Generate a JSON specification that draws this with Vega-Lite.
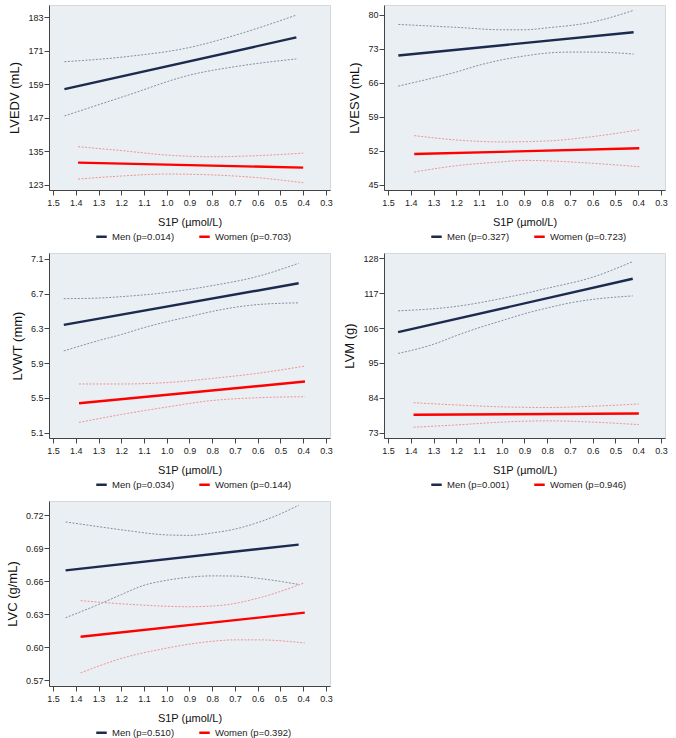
{
  "$schema": "https://vega.github.io/schema/vega-lite/v6.json",
  "background": "white",
  "padding": {"left": 5, "top": 4, "right": 4, "bottom": 4},
  "config": {
    "font": "Liberation Sans",
    "view": {"fill": "#e9eff2", "stroke": "#d4d8da", "strokeWidth": 1},
    "axis": {"grid": false, "domainColor": "#444", "tickColor": "#444", "tickSize": 5, "labelFontSize": 9, "labelColor": "#222", "titleFontWeight": "normal", "titleColor": "#111", "labelFont": "Liberation Sans", "titleFont": "Liberation Sans"},
    "axisX": {"titleFontSize": 11, "titlePadding": 9, "labelPadding": 3},
    "axisY": {"titleFontSize": 13, "titlePadding": 6, "labelPadding": 1}
  },
  "datasets": {
    "lvedv": [
      {"s": "Men", "k": "fit", "x": 1.45, "y": 157.3},
      {"s": "Men", "k": "fit", "x": 0.43, "y": 175.8},
      {"s": "Men", "k": "hi", "x": 1.45, "y": 167.1},
      {"s": "Men", "k": "hi", "x": 1.18, "y": 168.9},
      {"s": "Men", "k": "hi", "x": 0.9, "y": 172.2},
      {"s": "Men", "k": "hi", "x": 0.67, "y": 177.3},
      {"s": "Men", "k": "hi", "x": 0.43, "y": 183.8},
      {"s": "Men", "k": "lo", "x": 1.45, "y": 147.7},
      {"s": "Men", "k": "lo", "x": 1.18, "y": 154.9},
      {"s": "Men", "k": "lo", "x": 0.9, "y": 162.3},
      {"s": "Men", "k": "lo", "x": 0.67, "y": 165.7},
      {"s": "Men", "k": "lo", "x": 0.43, "y": 168.1},
      {"s": "Women", "k": "fit", "x": 1.39, "y": 131.0},
      {"s": "Women", "k": "fit", "x": 0.4, "y": 129.2},
      {"s": "Women", "k": "hi", "x": 1.39, "y": 136.7},
      {"s": "Women", "k": "hi", "x": 1.2, "y": 135.3},
      {"s": "Women", "k": "hi", "x": 1.0, "y": 133.7},
      {"s": "Women", "k": "hi", "x": 0.8, "y": 133.1},
      {"s": "Women", "k": "hi", "x": 0.6, "y": 133.5},
      {"s": "Women", "k": "hi", "x": 0.4, "y": 134.4},
      {"s": "Women", "k": "lo", "x": 1.39, "y": 125.1},
      {"s": "Women", "k": "lo", "x": 1.2, "y": 126.2},
      {"s": "Women", "k": "lo", "x": 1.0, "y": 126.9},
      {"s": "Women", "k": "lo", "x": 0.8, "y": 126.6},
      {"s": "Women", "k": "lo", "x": 0.6, "y": 125.6},
      {"s": "Women", "k": "lo", "x": 0.4, "y": 123.8}
    ],
    "lvesv": [
      {"s": "Men", "k": "fit", "x": 1.455, "y": 71.6},
      {"s": "Men", "k": "fit", "x": 0.42, "y": 76.4},
      {"s": "Men", "k": "hi", "x": 1.455, "y": 78.0},
      {"s": "Men", "k": "hi", "x": 1.2, "y": 77.4},
      {"s": "Men", "k": "hi", "x": 1.0, "y": 76.9},
      {"s": "Men", "k": "hi", "x": 0.9, "y": 76.9},
      {"s": "Men", "k": "hi", "x": 0.8, "y": 77.3},
      {"s": "Men", "k": "hi", "x": 0.6, "y": 78.5},
      {"s": "Men", "k": "hi", "x": 0.42, "y": 80.9},
      {"s": "Men", "k": "lo", "x": 1.455, "y": 65.3},
      {"s": "Men", "k": "lo", "x": 1.3, "y": 67.0},
      {"s": "Men", "k": "lo", "x": 1.2, "y": 68.2},
      {"s": "Men", "k": "lo", "x": 1.1, "y": 69.6},
      {"s": "Men", "k": "lo", "x": 1.0, "y": 70.7},
      {"s": "Men", "k": "lo", "x": 0.9, "y": 71.5},
      {"s": "Men", "k": "lo", "x": 0.8, "y": 72.1},
      {"s": "Men", "k": "lo", "x": 0.7, "y": 72.3},
      {"s": "Men", "k": "lo", "x": 0.6, "y": 72.3},
      {"s": "Men", "k": "lo", "x": 0.42, "y": 71.9},
      {"s": "Women", "k": "fit", "x": 1.385, "y": 51.3},
      {"s": "Women", "k": "fit", "x": 0.395, "y": 52.5},
      {"s": "Women", "k": "hi", "x": 1.385, "y": 55.1},
      {"s": "Women", "k": "hi", "x": 1.2, "y": 54.2},
      {"s": "Women", "k": "hi", "x": 1.0, "y": 53.8},
      {"s": "Women", "k": "hi", "x": 0.8, "y": 54.0},
      {"s": "Women", "k": "hi", "x": 0.6, "y": 54.9},
      {"s": "Women", "k": "hi", "x": 0.395, "y": 56.3},
      {"s": "Women", "k": "lo", "x": 1.385, "y": 47.6},
      {"s": "Women", "k": "lo", "x": 1.2, "y": 48.9},
      {"s": "Women", "k": "lo", "x": 1.0, "y": 49.7},
      {"s": "Women", "k": "lo", "x": 0.9, "y": 50.0},
      {"s": "Women", "k": "lo", "x": 0.8, "y": 49.9},
      {"s": "Women", "k": "lo", "x": 0.6, "y": 49.4},
      {"s": "Women", "k": "lo", "x": 0.395, "y": 48.7}
    ],
    "lvwt": [
      {"s": "Men", "k": "fit", "x": 1.453, "y": 6.341},
      {"s": "Men", "k": "fit", "x": 0.42, "y": 6.819},
      {"s": "Men", "k": "hi", "x": 1.453, "y": 6.642},
      {"s": "Men", "k": "hi", "x": 1.3, "y": 6.649},
      {"s": "Men", "k": "hi", "x": 1.2, "y": 6.665},
      {"s": "Men", "k": "hi", "x": 1.0, "y": 6.713},
      {"s": "Men", "k": "hi", "x": 0.8, "y": 6.792},
      {"s": "Men", "k": "hi", "x": 0.6, "y": 6.898},
      {"s": "Men", "k": "hi", "x": 0.42, "y": 7.049},
      {"s": "Men", "k": "lo", "x": 1.453, "y": 6.041},
      {"s": "Men", "k": "lo", "x": 1.3, "y": 6.16},
      {"s": "Men", "k": "lo", "x": 1.2, "y": 6.23},
      {"s": "Men", "k": "lo", "x": 1.1, "y": 6.309},
      {"s": "Men", "k": "lo", "x": 1.0, "y": 6.377},
      {"s": "Men", "k": "lo", "x": 0.9, "y": 6.436},
      {"s": "Men", "k": "lo", "x": 0.8, "y": 6.495},
      {"s": "Men", "k": "lo", "x": 0.7, "y": 6.543},
      {"s": "Men", "k": "lo", "x": 0.6, "y": 6.574},
      {"s": "Men", "k": "lo", "x": 0.42, "y": 6.594},
      {"s": "Women", "k": "fit", "x": 1.386, "y": 5.44},
      {"s": "Women", "k": "fit", "x": 0.392, "y": 5.689},
      {"s": "Women", "k": "hi", "x": 1.386, "y": 5.661},
      {"s": "Women", "k": "hi", "x": 1.2, "y": 5.661},
      {"s": "Women", "k": "hi", "x": 1.0, "y": 5.677},
      {"s": "Women", "k": "hi", "x": 0.8, "y": 5.725},
      {"s": "Women", "k": "hi", "x": 0.6, "y": 5.784},
      {"s": "Women", "k": "hi", "x": 0.392, "y": 5.867},
      {"s": "Women", "k": "lo", "x": 1.386, "y": 5.219},
      {"s": "Women", "k": "lo", "x": 1.2, "y": 5.31},
      {"s": "Women", "k": "lo", "x": 1.0, "y": 5.396},
      {"s": "Women", "k": "lo", "x": 0.8, "y": 5.471},
      {"s": "Women", "k": "lo", "x": 0.6, "y": 5.503},
      {"s": "Women", "k": "lo", "x": 0.392, "y": 5.515}
    ],
    "lvm": [
      {"s": "Men", "k": "fit", "x": 1.456, "y": 104.7},
      {"s": "Men", "k": "fit", "x": 0.424, "y": 121.5},
      {"s": "Men", "k": "hi", "x": 1.456, "y": 111.4},
      {"s": "Men", "k": "hi", "x": 1.2, "y": 112.8},
      {"s": "Men", "k": "hi", "x": 1.0, "y": 115.3},
      {"s": "Men", "k": "hi", "x": 0.8, "y": 118.5},
      {"s": "Men", "k": "hi", "x": 0.6, "y": 122.0},
      {"s": "Men", "k": "hi", "x": 0.424, "y": 126.9},
      {"s": "Men", "k": "lo", "x": 1.456, "y": 98.0},
      {"s": "Men", "k": "lo", "x": 1.3, "y": 100.9},
      {"s": "Men", "k": "lo", "x": 1.2, "y": 103.6},
      {"s": "Men", "k": "lo", "x": 1.1, "y": 106.1},
      {"s": "Men", "k": "lo", "x": 1.0, "y": 108.3},
      {"s": "Men", "k": "lo", "x": 0.9, "y": 110.5},
      {"s": "Men", "k": "lo", "x": 0.8, "y": 112.3},
      {"s": "Men", "k": "lo", "x": 0.7, "y": 113.9},
      {"s": "Men", "k": "lo", "x": 0.6, "y": 115.0},
      {"s": "Men", "k": "lo", "x": 0.424, "y": 116.1},
      {"s": "Women", "k": "fit", "x": 1.388, "y": 78.7},
      {"s": "Women", "k": "fit", "x": 0.397, "y": 79.1},
      {"s": "Women", "k": "hi", "x": 1.388, "y": 82.5},
      {"s": "Women", "k": "hi", "x": 1.2, "y": 81.8},
      {"s": "Women", "k": "hi", "x": 1.0, "y": 81.2},
      {"s": "Women", "k": "hi", "x": 0.8, "y": 81.0},
      {"s": "Women", "k": "hi", "x": 0.6, "y": 81.4},
      {"s": "Women", "k": "hi", "x": 0.397, "y": 82.1},
      {"s": "Women", "k": "lo", "x": 1.388, "y": 74.8},
      {"s": "Women", "k": "lo", "x": 1.2, "y": 75.5},
      {"s": "Women", "k": "lo", "x": 1.0, "y": 76.4},
      {"s": "Women", "k": "lo", "x": 0.8, "y": 76.8},
      {"s": "Women", "k": "lo", "x": 0.6, "y": 76.4},
      {"s": "Women", "k": "lo", "x": 0.397, "y": 75.6}
    ],
    "lvc": [
      {"s": "Men", "k": "fit", "x": 1.445, "y": 0.670},
      {"s": "Men", "k": "fit", "x": 0.42, "y": 0.6934},
      {"s": "Men", "k": "hi", "x": 1.445, "y": 0.714},
      {"s": "Men", "k": "hi", "x": 1.3, "y": 0.7097},
      {"s": "Men", "k": "hi", "x": 1.18, "y": 0.7063},
      {"s": "Men", "k": "hi", "x": 1.0, "y": 0.7022},
      {"s": "Men", "k": "hi", "x": 0.9, "y": 0.7018},
      {"s": "Men", "k": "hi", "x": 0.8, "y": 0.704},
      {"s": "Men", "k": "hi", "x": 0.7, "y": 0.7075},
      {"s": "Men", "k": "hi", "x": 0.6, "y": 0.7134},
      {"s": "Men", "k": "hi", "x": 0.5, "y": 0.7213},
      {"s": "Men", "k": "hi", "x": 0.42, "y": 0.7291},
      {"s": "Men", "k": "lo", "x": 1.445, "y": 0.627},
      {"s": "Men", "k": "lo", "x": 1.3, "y": 0.639},
      {"s": "Men", "k": "lo", "x": 1.2, "y": 0.648},
      {"s": "Men", "k": "lo", "x": 1.1, "y": 0.6565},
      {"s": "Men", "k": "lo", "x": 1.0, "y": 0.661},
      {"s": "Men", "k": "lo", "x": 0.9, "y": 0.6638},
      {"s": "Men", "k": "lo", "x": 0.8, "y": 0.665},
      {"s": "Men", "k": "lo", "x": 0.7, "y": 0.6648},
      {"s": "Men", "k": "lo", "x": 0.6, "y": 0.6628},
      {"s": "Men", "k": "lo", "x": 0.5, "y": 0.66},
      {"s": "Men", "k": "lo", "x": 0.42, "y": 0.6572},
      {"s": "Women", "k": "fit", "x": 1.379, "y": 0.6097},
      {"s": "Women", "k": "fit", "x": 0.393, "y": 0.6316},
      {"s": "Women", "k": "hi", "x": 1.379, "y": 0.6425},
      {"s": "Women", "k": "hi", "x": 1.15, "y": 0.639},
      {"s": "Women", "k": "hi", "x": 0.9, "y": 0.637},
      {"s": "Women", "k": "hi", "x": 0.75, "y": 0.6385},
      {"s": "Women", "k": "hi", "x": 0.6, "y": 0.6447},
      {"s": "Women", "k": "hi", "x": 0.393, "y": 0.6588},
      {"s": "Women", "k": "lo", "x": 1.379, "y": 0.5769},
      {"s": "Women", "k": "lo", "x": 1.2, "y": 0.59},
      {"s": "Women", "k": "lo", "x": 1.0, "y": 0.5994},
      {"s": "Women", "k": "lo", "x": 0.8, "y": 0.6056},
      {"s": "Women", "k": "lo", "x": 0.7, "y": 0.6069},
      {"s": "Women", "k": "lo", "x": 0.6, "y": 0.6069},
      {"s": "Women", "k": "lo", "x": 0.393, "y": 0.6041}
    ]
  },
  "columns": 2,
  "spacing": {"row": 9, "column": 10},
  "resolve": {"scale": {"color": "independent", "x": "independent", "y": "independent"}, "legend": {"color": "independent"}},
  "concat": [
    {
      "width": 281, "height": 185,
      "data": {"name": "lvedv"},
      "encoding": {
        "x": {"field": "x", "type": "quantitative", "scale": {"domain": [0.282, 1.518], "reverse": true, "nice": false, "zero": false}, "axis": {"values": [1.5, 1.4, 1.3, 1.2, 1.1, 1.0, 0.9, 0.8, 0.7, 0.6, 0.5, 0.4, 0.3], "format": ".1f", "title": "S1P (µmol/L)"}},
        "y": {"field": "y", "type": "quantitative", "scale": {"domain": [121.2, 187.4], "nice": false, "zero": false}, "axis": {"values": [123, 135, 147, 159, 171, 183], "title": "LVEDV (mL)"}}
      },
      "layer": [
        {"transform": [{"filter": "datum.k != 'fit'"}], "mark": {"type": "line", "strokeDash": [2, 1.5], "strokeWidth": 0.9, "interpolate": "monotone"}, "encoding": {"detail": [{"field": "s"}, {"field": "k"}], "stroke": {"condition": {"test": "datum.s == 'Men'", "value": "#7b8399"}, "value": "#f08888"}}},
        {"transform": [{"filter": "datum.k == 'fit'"}], "mark": {"type": "line", "strokeWidth": 2.4}, "encoding": {"color": {"field": "s", "type": "nominal", "scale": {"domain": ["Men", "Women"], "range": ["#1b2a4e", "#ff0000"]}, "legend": {"title": null, "orient": "none", "legendX": 46, "legendY": 225, "direction": "horizontal", "symbolType": "stroke", "symbolStrokeWidth": 2.5, "symbolSize": 110, "columnPadding": 19, "labelFontSize": 9.5, "labelColor": "#222", "labelExpr": "datum.label == 'Men' ? 'Men (p=0.014)' : 'Women (p=0.703)'"}}}}
      ]
    },
    {
      "width": 281, "height": 185,
      "data": {"name": "lvesv"},
      "encoding": {
        "x": {"field": "x", "type": "quantitative", "scale": {"domain": [0.282, 1.518], "reverse": true, "nice": false, "zero": false}, "axis": {"values": [1.5, 1.4, 1.3, 1.2, 1.1, 1.0, 0.9, 0.8, 0.7, 0.6, 0.5, 0.4, 0.3], "format": ".1f", "title": "S1P (µmol/L)"}},
        "y": {"field": "y", "type": "quantitative", "scale": {"domain": [43.9, 82.0], "nice": false, "zero": false}, "axis": {"values": [45, 52, 59, 66, 73, 80], "title": "LVESV (mL)"}}
      },
      "layer": [
        {"transform": [{"filter": "datum.k != 'fit'"}], "mark": {"type": "line", "strokeDash": [2, 1.5], "strokeWidth": 0.9, "interpolate": "monotone"}, "encoding": {"detail": [{"field": "s"}, {"field": "k"}], "stroke": {"condition": {"test": "datum.s == 'Men'", "value": "#7b8399"}, "value": "#f08888"}}},
        {"transform": [{"filter": "datum.k == 'fit'"}], "mark": {"type": "line", "strokeWidth": 2.4}, "encoding": {"color": {"field": "s", "type": "nominal", "scale": {"domain": ["Men", "Women"], "range": ["#1b2a4e", "#ff0000"]}, "legend": {"title": null, "orient": "none", "legendX": 46, "legendY": 225, "direction": "horizontal", "symbolType": "stroke", "symbolStrokeWidth": 2.5, "symbolSize": 110, "columnPadding": 19, "labelFontSize": 9.5, "labelColor": "#222", "labelExpr": "datum.label == 'Men' ? 'Men (p=0.327)' : 'Women (p=0.723)'"}}}}
      ]
    },
    {
      "width": 281, "height": 185,
      "data": {"name": "lvwt"},
      "encoding": {
        "x": {"field": "x", "type": "quantitative", "scale": {"domain": [0.282, 1.518], "reverse": true, "nice": false, "zero": false}, "axis": {"values": [1.5, 1.4, 1.3, 1.2, 1.1, 1.0, 0.9, 0.8, 0.7, 0.6, 0.5, 0.4, 0.3], "format": ".1f", "title": "S1P (µmol/L)"}},
        "y": {"field": "y", "type": "quantitative", "scale": {"domain": [5.04, 7.167], "nice": false, "zero": false}, "axis": {"values": [5.1, 5.5, 5.9, 6.3, 6.7, 7.1], "format": ".1f", "title": "LVWT (mm)"}}
      },
      "layer": [
        {"transform": [{"filter": "datum.k != 'fit'"}], "mark": {"type": "line", "strokeDash": [2, 1.5], "strokeWidth": 0.9, "interpolate": "monotone"}, "encoding": {"detail": [{"field": "s"}, {"field": "k"}], "stroke": {"condition": {"test": "datum.s == 'Men'", "value": "#7b8399"}, "value": "#f08888"}}},
        {"transform": [{"filter": "datum.k == 'fit'"}], "mark": {"type": "line", "strokeWidth": 2.4}, "encoding": {"color": {"field": "s", "type": "nominal", "scale": {"domain": ["Men", "Women"], "range": ["#1b2a4e", "#ff0000"]}, "legend": {"title": null, "orient": "none", "legendX": 46, "legendY": 225, "direction": "horizontal", "symbolType": "stroke", "symbolStrokeWidth": 2.5, "symbolSize": 110, "columnPadding": 19, "labelFontSize": 9.5, "labelColor": "#222", "labelExpr": "datum.label == 'Men' ? 'Men (p=0.034)' : 'Women (p=0.144)'"}}}}
      ]
    },
    {
      "width": 281, "height": 185,
      "data": {"name": "lvm"},
      "encoding": {
        "x": {"field": "x", "type": "quantitative", "scale": {"domain": [0.282, 1.518], "reverse": true, "nice": false, "zero": false}, "axis": {"values": [1.5, 1.4, 1.3, 1.2, 1.1, 1.0, 0.9, 0.8, 0.7, 0.6, 0.5, 0.4, 0.3], "format": ".1f", "title": "S1P (µmol/L)"}},
        "y": {"field": "y", "type": "quantitative", "scale": {"domain": [71.4, 129.6], "nice": false, "zero": false}, "axis": {"values": [73, 84, 95, 106, 117, 128], "title": "LVM (g)"}}
      },
      "layer": [
        {"transform": [{"filter": "datum.k != 'fit'"}], "mark": {"type": "line", "strokeDash": [2, 1.5], "strokeWidth": 0.9, "interpolate": "monotone"}, "encoding": {"detail": [{"field": "s"}, {"field": "k"}], "stroke": {"condition": {"test": "datum.s == 'Men'", "value": "#7b8399"}, "value": "#f08888"}}},
        {"transform": [{"filter": "datum.k == 'fit'"}], "mark": {"type": "line", "strokeWidth": 2.4}, "encoding": {"color": {"field": "s", "type": "nominal", "scale": {"domain": ["Men", "Women"], "range": ["#1b2a4e", "#ff0000"]}, "legend": {"title": null, "orient": "none", "legendX": 46, "legendY": 225, "direction": "horizontal", "symbolType": "stroke", "symbolStrokeWidth": 2.5, "symbolSize": 110, "columnPadding": 19, "labelFontSize": 9.5, "labelColor": "#222", "labelExpr": "datum.label == 'Men' ? 'Men (p=0.001)' : 'Women (p=0.946)'"}}}}
      ]
    },
    {
      "width": 281, "height": 185,
      "data": {"name": "lvc"},
      "encoding": {
        "x": {"field": "x", "type": "quantitative", "scale": {"domain": [0.282, 1.518], "reverse": true, "nice": false, "zero": false}, "axis": {"values": [1.5, 1.4, 1.3, 1.2, 1.1, 1.0, 0.9, 0.8, 0.7, 0.6, 0.5, 0.4, 0.3], "format": ".1f", "title": "S1P (µmol/L)"}},
        "y": {"field": "y", "type": "quantitative", "scale": {"domain": [0.565, 0.733], "nice": false, "zero": false}, "axis": {"values": [0.57, 0.60, 0.63, 0.66, 0.69, 0.72], "format": ".2f", "title": "LVC (g/mL)"}}
      },
      "layer": [
        {"transform": [{"filter": "datum.k != 'fit'"}], "mark": {"type": "line", "strokeDash": [2, 1.5], "strokeWidth": 0.9, "interpolate": "monotone"}, "encoding": {"detail": [{"field": "s"}, {"field": "k"}], "stroke": {"condition": {"test": "datum.s == 'Men'", "value": "#7b8399"}, "value": "#f08888"}}},
        {"transform": [{"filter": "datum.k == 'fit'"}], "mark": {"type": "line", "strokeWidth": 2.4}, "encoding": {"color": {"field": "s", "type": "nominal", "scale": {"domain": ["Men", "Women"], "range": ["#1b2a4e", "#ff0000"]}, "legend": {"title": null, "orient": "none", "legendX": 46, "legendY": 225, "direction": "horizontal", "symbolType": "stroke", "symbolStrokeWidth": 2.5, "symbolSize": 110, "columnPadding": 19, "labelFontSize": 9.5, "labelColor": "#222", "labelExpr": "datum.label == 'Men' ? 'Men (p=0.510)' : 'Women (p=0.392)'"}}}}
      ]
    }
  ]
}
